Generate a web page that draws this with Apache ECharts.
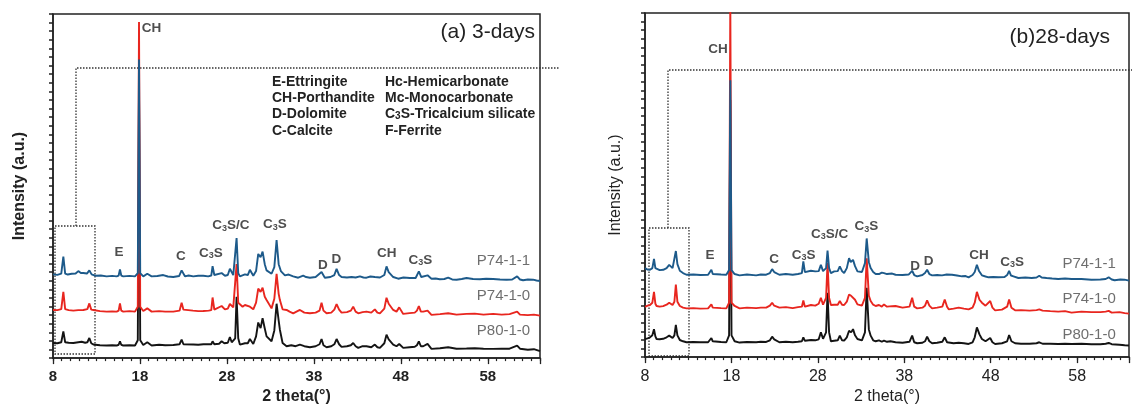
<!DOCTYPE html>
<html><head><meta charset="utf-8">
<script src="https://cdn.jsdelivr.net/npm/echarts@6/dist/echarts.min.js"></script>
<style>html,body{margin:0;padding:0;background:#fff}#c{width:1132px;height:410px}</style>
</head><body><div id="c"></div>
<script>
// ---------------- data ----------------
const tickLabels = [8, 18, 28, 38, 48, 58];
const sampleNames = ['P74-1-1', 'P74-1-0', 'P80-1-0'];
const panelTitles = ['(a) 3-days', '(b)28-days'];
const legendCol1 = ['E-Ettringite', 'CH-Porthandite', 'D-Dolomite', 'C-Calcite'];
const legendCol2 = ['Hc-Hemicarbonate', 'Mc-Monocarbonate', 'C3S-Tricalcium silicate', 'F-Ferrite'];

// (a) 3 days  [2theta, intensity incl. stacking offset]
const a_P74_1_1 = [[8.0,84.7],[8.5,84.2],[8.95,85.5],[9.19,102.7],[9.4,85.5],[9.7,84.5],[10.15,85.3],[10.6,85.5],[10.91,88],[11.2,86],[11.49,86],[11.9,85.5],[12.18,88.7],[12.44,84.7],[12.83,83.3],[13.5,83.5],[14.17,82.7],[14.8,83.2],[15.32,82.7],[15.55,83.5],[15.7,89.7],[15.85,83.5],[16.08,82.7],[16.8,83.2],[17.43,82.7],[17.75,86],[17.89,302],[18.03,86],[18.38,82.7],[18.84,85.3],[19.34,82.7],[20.0,83],[20.68,84],[21.2,82.5],[21.83,82],[22.5,83],[22.79,88.7],[23.17,82.7],[23.6,83.5],[24.13,82.7],[24.7,83.3],[25.28,83.3],[25.85,82.7],[26.2,83.5],[26.35,93],[26.55,84],[26.74,83.3],[27.39,86],[27.77,83.3],[28.1,84],[28.34,90.3],[28.73,84],[28.95,86],[29.11,121.3],[29.3,86],[29.49,82.7],[30.07,84.7],[30.4,84],[30.64,89.3],[31.03,83.3],[31.35,88],[31.6,105.3],[31.87,102],[32.1,107.7],[32.35,95],[32.56,88.7],[33.13,85.3],[33.45,92],[33.71,119.3],[33.95,95],[34.2,88],[34.67,83.7],[35.1,84.5],[35.62,82.7],[36.2,81.3],[36.77,83.3],[37.1,82],[37.54,81.3],[38.2,82],[38.88,87],[39.26,81.3],[39.9,82],[40.35,84],[40.61,90.3],[40.9,84],[41.18,82],[41.8,81.5],[42.33,82],[42.8,81.5],[43.29,82.7],[43.7,81.5],[44.05,81.3],[44.5,82.5],[45.01,82],[45.6,81.5],[46.1,84],[46.35,92.7],[46.6,87],[47.12,82],[47.69,80.3],[48.3,81.5],[49.03,81],[49.7,81],[50.07,87.7],[50.35,82],[50.57,82],[51.07,83.7],[51.52,80.3],[52.0,80.5],[52.48,79.7],[53.0,80],[53.44,81.3],[53.9,79.5],[54.4,79.3],[55.0,80],[55.55,81],[56.3,80],[57.08,79.7],[57.8,80.2],[58.61,80],[59.4,79.5],[60.15,79.3],[60.8,79.5],[61.37,82.7],[61.7,79.5],[62.06,78.7],[62.6,79.5],[63.21,79.3],[63.6,78.5],[64,78]];
const a_P74_1_0 = [[8.0,48.7],[8.5,48.5],[8.95,49.5],[9.19,67],[9.4,49.5],[9.8,48.5],[10.34,48],[10.9,48.5],[11.49,48.7],[11.95,49.5],[12.18,55.3],[12.4,49],[12.64,48.7],[13.4,47.5],[14.17,47],[14.8,47.3],[15.32,47],[15.55,48],[15.7,55.3],[15.85,48],[16.08,47],[16.8,47.5],[17.43,47],[17.75,52],[17.89,340],[18.03,52],[18.38,47.7],[18.84,50.3],[19.34,47],[20.2,47.5],[20.9,47],[21.83,47],[22.55,48],[22.79,56],[23.0,49],[23.17,47.7],[24.1,48],[24.7,47.5],[25.28,47.7],[25.9,48],[26.2,48.5],[26.35,61.3],[26.55,49],[26.74,48.7],[27.39,52.7],[27.77,49.3],[28.1,50],[28.34,54.7],[28.73,51.3],[28.95,53],[29.11,95],[29.3,56],[29.49,54.7],[29.8,52],[30.07,53.7],[30.64,52],[31.03,49.3],[31.35,56],[31.6,70.3],[31.87,67],[32.1,71.3],[32.35,62],[32.56,58.7],[33.13,50.3],[33.45,60],[33.71,85.3],[33.95,65],[34.09,58.7],[34.4,49.3],[34.86,48.7],[35.2,47],[35.62,45.3],[36.0,47],[36.39,48.7],[36.9,46],[37.54,45.3],[38.2,46],[38.65,48],[38.88,56],[39.1,48],[39.46,45.3],[40.0,46],[40.35,49],[40.61,54.7],[40.9,49],[41.18,46],[41.8,46.5],[42.25,48],[42.52,52],[42.8,47],[43.1,45.3],[43.6,46.5],[44.05,47],[44.6,46],[45.01,49.3],[45.3,46],[45.59,45.3],[46.1,50],[46.35,61],[46.6,55],[47.12,48.7],[47.5,47],[47.81,51.3],[48.27,44.7],[49.0,45.5],[49.6,46],[49.85,48],[50.07,52.7],[50.3,47],[50.57,47],[51.07,48],[51.52,43.7],[52.5,44.5],[53.44,45.3],[54.4,44],[55.55,44.7],[56.5,45],[57.5,44],[58.61,44.7],[59.6,44],[60.5,44.5],[61.37,47],[61.7,44],[62.6,43.5],[63.3,44],[64,43]];
const a_P80_1_0 = [[8.0,15.3],[8.5,15],[8.95,16],[9.19,27],[9.4,16],[9.8,15.5],[10.34,15.3],[10.9,16],[11.3,16.5],[11.49,18],[11.7,15.5],[11.95,16],[12.18,20.3],[12.4,15],[12.64,13.7],[13.4,13],[14.17,12.7],[14.8,13],[15.32,12.7],[15.55,13.5],[15.7,17],[15.85,13.5],[16.08,12.7],[16.8,13],[17.43,12.7],[17.75,18],[17.89,270],[18.03,18],[18.38,13.3],[18.84,16],[19.34,12.7],[20.2,13.5],[20.9,13],[21.83,13.3],[22.55,14],[22.79,18.7],[23.0,14],[23.17,13.3],[24.13,13.7],[24.7,13.5],[25.3,14],[25.9,14],[26.2,14],[26.35,17],[26.55,14],[26.74,13.7],[27.1,14.5],[27.39,17],[27.7,15],[28.1,15.5],[28.34,21.3],[28.55,16],[28.73,15.3],[28.95,20],[29.11,62],[29.3,20],[29.49,13.7],[30.07,15],[30.4,15],[30.64,19.3],[31.03,14.3],[31.35,22],[31.6,36],[31.87,30.3],[32.1,40.3],[32.35,30],[32.56,22],[33.13,17],[33.45,28],[33.71,55],[33.95,38],[34.09,28.7],[34.4,15.3],[34.86,12],[35.4,13],[35.9,12],[36.39,13.7],[36.9,12],[37.54,11],[38.2,12],[38.65,14],[38.88,19.3],[39.1,13],[39.46,11],[40.0,12],[40.35,14],[40.61,19.3],[40.9,14],[41.18,11.3],[41.8,12],[42.25,13],[42.52,15.3],[42.8,12],[43.1,10.3],[43.6,12],[44.05,12],[44.6,11],[45.01,13.7],[45.3,11],[45.59,10.3],[46.1,15],[46.35,23.7],[46.6,19],[47.12,13.7],[47.5,12],[47.81,14.3],[48.27,10.3],[49.0,11],[49.6,11.5],[49.85,13],[50.07,17],[50.3,12],[50.57,12],[51.07,14.3],[51.52,9.3],[52.5,10],[53.44,11],[54.4,9.5],[55.55,9.7],[56.5,10],[57.5,9.5],[58.61,9.3],[59.6,9.5],[60.5,9.5],[61.37,12.7],[61.7,9.5],[62.6,8.5],[63.3,9],[64,7]];

// (b) 28 days
const b_P74_1_1 = [[8.0,90],[8.3,88.5],[8.58,88.3],[8.85,90],[9.04,99.3],[9.2,90],[9.34,88.3],[9.7,88],[10.11,88.3],[10.5,90],[10.8,93.3],[11.19,90],[11.4,92],[11.57,107.3],[11.75,94],[12.03,87.3],[12.4,85],[12.8,83.3],[13.6,83.5],[14.4,83],[15.3,83.3],[15.52,84],[15.68,88.3],[15.84,84],[16.06,83.3],[16.8,83.5],[17.41,83.3],[17.73,88],[17.87,280],[18.01,88],[18.37,84],[18.94,82.7],[19.8,83.5],[20.86,82.7],[21.4,83.5],[22.02,83.3],[22.45,85],[22.71,89],[22.95,86],[23.17,86],[23.55,83.3],[24.3,84],[25.09,83.3],[25.7,84],[26.15,85],[26.32,96.7],[26.5,86],[26.7,85],[27.2,87.3],[27.7,86.7],[28.1,87],[28.35,93.3],[28.6,87],[28.74,86.7],[28.95,90],[29.12,107.7],[29.3,90],[29.51,85],[29.89,86.7],[30.3,87],[30.54,91.7],[30.8,87],[31.04,85],[31.35,90],[31.61,100],[31.8,96],[31.92,97.3],[32.07,98.3],[32.3,92],[32.58,86.7],[33.1,86],[33.45,95],[33.65,120],[33.9,96],[34.11,90],[34.4,86],[34.69,84],[35.07,84],[35.4,85.5],[35.65,85],[36.0,84],[36.23,84],[36.6,84.5],[36.99,83.3],[37.8,83],[38.5,83.5],[38.91,87.3],[39.15,83],[39.49,81.7],[40.1,83],[40.4,85],[40.64,88.3],[40.9,84],[41.22,82.7],[41.8,83],[42.37,82.7],[42.9,83.5],[43.52,83.3],[44.1,82.5],[44.67,81.7],[45.1,82],[45.44,80.7],[45.9,83],[46.15,86],[46.4,93.3],[46.65,87],[46.98,82.7],[47.4,81.5],[47.75,80.7],[48.3,81],[48.9,80.7],[49.6,81],[49.9,83],[50.13,87.3],[50.35,82.5],[50.63,81.7],[51.2,80],[52.0,80.5],[52.74,80],[53.3,80.5],[53.62,82.3],[53.9,80.5],[54.47,80],[55.1,79.5],[55.81,79],[56.6,79.5],[57.35,79],[58.5,79],[59.65,78.3],[60.7,78.5],[61.3,79],[61.65,80.7],[62.0,78.5],[62.34,77.7],[63.0,78.5],[63.49,78.3],[64,77.3]];
const b_P74_1_0 = [[8.0,50.7],[8.3,52],[8.58,52.7],[8.85,55],[9.04,66],[9.2,54],[9.34,51.7],[9.7,51],[10.1,51.5],[10.5,53],[10.8,55],[11.19,52.7],[11.4,56],[11.57,73.3],[11.75,56],[12.03,51.7],[12.4,50],[12.8,49.3],[13.6,49.5],[14.4,49],[15.3,49.3],[15.52,50],[15.68,53.3],[15.84,50],[16.06,49.3],[16.8,49.5],[17.41,49.3],[17.73,55],[17.87,360],[18.01,55],[18.37,51.7],[18.94,49.3],[19.8,50],[20.86,49.5],[21.4,50],[22.02,50],[22.45,52],[22.71,55],[22.95,52],[23.17,52.7],[23.55,50],[24.3,50.5],[25.09,49.5],[25.7,50.5],[26.15,51],[26.32,57.3],[26.5,51],[26.7,50.7],[27.2,52.7],[27.7,52],[28.1,54],[28.35,60],[28.6,53],[28.74,52.7],[28.95,60],[29.12,95],[29.3,60],[29.51,52.7],[29.89,53],[30.3,53],[30.54,56.7],[30.8,53],[31.04,52.7],[31.35,56],[31.61,63.3],[31.85,62],[32.07,64],[32.3,58],[32.58,53.3],[33.1,52],[33.45,60],[33.65,100],[33.9,62],[34.11,56.7],[34.4,53],[34.69,51.7],[35.07,52.7],[35.4,51],[35.65,53.3],[36.0,51],[36.23,50.7],[36.6,51.5],[36.99,51.7],[37.8,50],[38.6,51],[38.91,60],[39.15,51],[39.49,49.3],[40.1,50],[40.4,52],[40.64,57.3],[40.9,52],[41.22,49.3],[41.8,50],[42.4,51],[42.68,58.3],[42.95,51],[43.14,48.3],[43.7,49],[44.29,50],[44.9,49],[45.44,48.3],[45.9,50],[46.15,55],[46.4,66],[46.7,58],[46.98,55],[47.4,52],[47.94,56.7],[48.2,50],[48.51,47.3],[49.3,48],[49.9,51],[50.13,58.3],[50.4,50],[50.82,47.3],[51.5,47.5],[52.5,47],[53.3,47.5],[53.62,48.3],[54.0,47],[54.9,46.5],[55.81,46],[56.6,46.5],[57.35,45],[58.5,46],[59.65,45.5],[60.7,45.5],[61.3,46],[61.65,46.7],[62.0,45],[62.9,45.5],[63.5,44.5],[64,44]];
const b_P80_1_0 = [[8.0,18.3],[8.3,19],[8.58,20],[8.85,22],[9.04,28.3],[9.2,21],[9.34,18.3],[9.7,18],[10.1,18.5],[10.5,20],[10.8,21.7],[11.19,19.3],[11.4,22],[11.57,32.7],[11.75,22],[12.03,17.3],[12.4,16],[12.8,15],[13.6,15.3],[14.4,15],[15.3,15],[15.52,16],[15.68,19.3],[15.84,16],[16.06,15],[16.8,15.3],[17.41,15],[17.73,22],[17.87,260],[18.01,22],[18.37,16],[18.94,14.7],[19.8,15.3],[20.86,15],[21.4,15.5],[22.02,15.3],[22.45,17],[22.71,20.7],[22.95,18],[23.17,17.3],[23.55,15],[24.3,15.5],[25.09,15],[25.7,15.5],[26.15,16],[26.32,20],[26.5,16.5],[26.7,16],[27.2,17.3],[27.7,17],[28.1,18],[28.35,25],[28.6,18.5],[28.74,18.3],[28.95,25],[29.12,65],[29.3,25],[29.51,16],[29.89,16.5],[30.3,17],[30.54,21.7],[30.8,17],[31.04,16.7],[31.35,20],[31.61,26.7],[31.85,25],[32.07,28.3],[32.3,22],[32.58,18.3],[33.1,17],[33.45,25],[33.65,70],[33.9,28],[34.11,21.7],[34.4,17],[34.69,16],[35.07,17],[35.4,15.5],[35.65,16.7],[36.0,15.5],[36.4,16],[36.99,15],[37.8,14.5],[38.6,15.5],[38.91,21.7],[39.15,15],[39.49,14],[40.1,14.5],[40.4,16],[40.64,20.7],[40.9,16],[41.22,14],[41.8,14.5],[42.4,15.5],[42.68,20],[42.95,15],[43.14,13.3],[43.7,14],[44.29,14.5],[44.9,14],[45.44,13.3],[45.9,15],[46.15,20],[46.4,30],[46.7,23],[46.98,18.3],[47.4,16],[47.94,19.3],[48.2,15],[48.51,13.3],[49.3,14],[49.9,16],[50.13,22.3],[50.4,16],[50.82,14],[51.5,13.5],[52.5,13.5],[53.3,14],[53.62,15],[54.0,13.5],[54.9,13.5],[55.81,13.3],[56.6,13.5],[57.35,13.3],[58.5,13.5],[59.65,13],[60.7,13],[61.3,13.5],[61.65,14.3],[62.0,13],[62.9,12.5],[63.5,12],[64,11.7]];

// peak annotations [2theta, intensity, text]
const peakLabelsA = [[19.33,335,'CH'],[15.59,108,'E'],[22.71,104,'C'],[26.16,107,'C3S'],[28.46,135,'C3S/C'],[33.52,136,'C3S'],[39.03,95,'D'],[40.59,101,'D'],[46.39,107,'CH'],[50.25,100,'C3S']];
const peakLabelsB = [[16.44,312.7,'CH'],[15.53,104,'E'],[22.94,100,'C'],[26.35,104,'C3S'],[29.35,125,'C3S/C'],[33.62,133,'C3S'],[39.24,93.3,'D'],[40.82,98.3,'D'],[46.64,104,'CH'],[50.47,97.3,'C3S']];
const nameLabelsA = [[59.8,99],[59.8,63],[59.8,28]];
const nameLabelsB = [[59.38,94.3],[59.38,59.3],[59.38,23.3]];

// ---------------- chart ----------------
const FONT = '"Liberation Sans", Arial, sans-serif';
const colors = ['#1d5a8a', '#e8261f', '#141414'];
const sub = s => s.replace(/C3S/g, 'C{s|3}S');
const richText = t => '{m|' + sub(t).replace(/\{s\|3\}/g, '}{s|3}{m|') + '}';

const chart = echarts.init(document.getElementById('c'), null, {renderer: 'canvas'});

function gridAxes(i, bold, yGap) {
  const fw = bold ? 'bold' : 'normal';
  return {
    x: [{
      gridIndex: i, type: 'value', min: 8, max: 64, interval: 1,
      axisLine: {lineStyle: {color: '#222', width: 1.5}},
      axisTick: {length: 3, lineStyle: {color: '#222', width: 1.2}},
      axisLabel: {formatter: v => tickLabels.includes(v) ? String(v) : '', fontSize: bold ? 15 : 16, fontWeight: fw, color: '#222', fontFamily: FONT, margin: 11},
      splitLine: {show: false},
      name: '2 theta(°)', nameLocation: 'middle', nameGap: 27,
      nameTextStyle: {fontSize: 16, fontWeight: fw, color: '#222', fontFamily: FONT}
    }, {
      gridIndex: i, type: 'value', min: 8, max: 64, interval: 10, position: 'bottom',
      axisLine: {show: false},
      axisTick: {length: 6, lineStyle: {color: '#222', width: 1.3}},
      axisLabel: {show: false}, splitLine: {show: false}
    }],
    y: [{
      gridIndex: i, type: 'value', min: 0, max: 348, interval: 8.7,
      axisLine: {show: true, lineStyle: {color: '#222', width: 1.5}},
      axisTick: {show: true, length: 4, lineStyle: {color: '#222', width: 1.5}},
      axisLabel: {show: false}, splitLine: {show: false},
      name: 'Intensity (a.u.)', nameLocation: 'middle', nameGap: yGap,
      nameTextStyle: {fontSize: 16, fontWeight: fw, color: '#222', fontFamily: FONT}
    }]
  };
}
const gA = gridAxes(0, true, 25), gB = gridAxes(1, false, 21);

function lineSeries(data, color, xi, yi) {
  return {type: 'line', data, xAxisIndex: xi, yAxisIndex: yi, symbol: 'none', smooth: false,
    lineStyle: {color, width: 1.9}, clip: true, animation: false};
}
function labelSeries(data, xi, yi, bold, size, color) {
  return {type: 'scatter', xAxisIndex: xi, yAxisIndex: yi, symbolSize: 1, itemStyle: {color: 'transparent'},
    data, silent: true, animation: false,
    label: {show: true, position: 'inside', formatter: p => richText(p.data[2]),
      rich: {
        m: {fontSize: size, fontWeight: bold ? 'bold' : 'normal', color, fontFamily: FONT, lineHeight: 16, verticalAlign: 'bottom'},
        s: {fontSize: 9, fontWeight: bold ? 'bold' : 'normal', color, fontFamily: FONT, lineHeight: 9, verticalAlign: 'bottom'}
      }}};
}

const option = {
  backgroundColor: '#fff',
  animation: false,
  grid: [
    {left: 53, top: 14, width: 487, height: 348, show: true, borderColor: '#222', borderWidth: 1.5, backgroundColor: 'transparent'},
    {left: 645, top: 13, width: 486, height: 347, show: true, borderColor: '#222', borderWidth: 1.5, backgroundColor: 'transparent'}
  ],
  xAxis: [...gA.x, ...gB.x.map(a => Object.assign({}, a, {gridIndex: 1}))],
  yAxis: [...gA.y, ...gB.y.map(a => Object.assign({}, a, {gridIndex: 1}))],
  series: [
    lineSeries(a_P80_1_0, colors[2], 0, 0),
    lineSeries(a_P74_1_0, colors[1], 0, 0),
    lineSeries(a_P74_1_1, colors[0], 0, 0),
    lineSeries(b_P80_1_0, colors[2], 2, 1),
    lineSeries(b_P74_1_0, colors[1], 2, 1),
    lineSeries(b_P74_1_1, colors[0], 2, 1),
    labelSeries(peakLabelsA, 0, 0, true, 13.5, '#222'),
    labelSeries(peakLabelsB, 2, 1, true, 13.5, '#222'),
    labelSeries(nameLabelsA.map((p, i) => [p[0], p[1], sampleNames[i]]), 0, 0, false, 15, '#4a4a4a'),
    labelSeries(nameLabelsB.map((p, i) => [p[0], p[1], sampleNames[i]]), 2, 1, false, 15, '#4a4a4a')
  ],
  graphic: []
};

// titles
const titleStyle = {fontSize: 21, fontFamily: FONT, fill: '#222', align: 'right', verticalAlign: 'middle'};
option.graphic.push({type: 'text', x: 535, y: 32, style: Object.assign({text: panelTitles[0]}, titleStyle)});
option.graphic.push({type: 'text', x: 1110, y: 37, style: Object.assign({text: panelTitles[1]}, titleStyle)});

// legend block
const legRich = {s: {fontSize: 10, fontWeight: 'bold', fill: '#222', fontFamily: FONT, lineHeight: 10, verticalAlign: 'bottom'},
                 m: {fontSize: 14, fontWeight: 'bold', fill: '#222', fontFamily: FONT, lineHeight: 16, verticalAlign: 'bottom'}};
const legY = [81, 97, 113.5, 130];
[legendCol1, legendCol2].forEach((col, c) => col.forEach((t, r) => {
  option.graphic.push({type: 'text', x: c === 0 ? 272 : 385, y: legY[r],
    style: {text: richText(t), rich: legRich, verticalAlign: 'middle', align: 'left', fontFamily: FONT}});
}));

// dotted callout lines
const dash = {stroke: '#333', lineWidth: 1.3, lineDash: [1.5, 1.5], fill: null};
option.graphic.push({type: 'polyline', shape: {points: [[55, 226], [95, 226], [95, 354], [55, 354], [55, 226]]}, style: dash});
option.graphic.push({type: 'polyline', shape: {points: [[76, 226], [76, 68], [560, 68]]}, style: dash});
option.graphic.push({type: 'polyline', shape: {points: [[649, 228], [689, 228], [689, 356], [649, 356], [649, 228]]}, style: dash});
option.graphic.push({type: 'polyline', shape: {points: [[668, 228], [668, 70], [1132, 70]]}, style: dash});

chart.setOption(option);
</script></body></html>
